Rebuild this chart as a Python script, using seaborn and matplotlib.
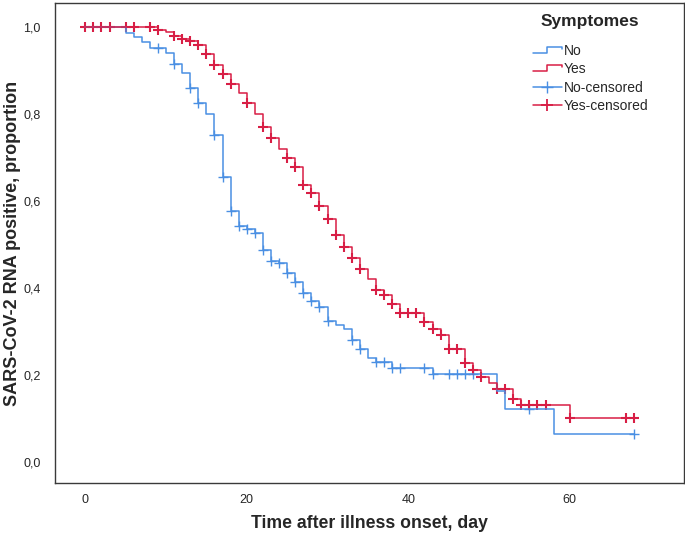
import numpy as np
import pandas as pd
import matplotlib
matplotlib.use("Agg")
import matplotlib.pyplot as plt
import seaborn as sns
from matplotlib.lines import Line2D
from matplotlib.legend_handler import HandlerBase

# Kaplan-Meier steps (day of step, proportion after step)
no_times = [0, 5, 6, 7, 8, 10, 11, 12, 13, 14, 15, 16, 17, 18, 19, 20, 21, 22,
            23, 24, 25, 26, 27, 28, 29, 30, 31, 32, 33, 34, 35, 36, 38, 43, 51,
            52, 58]
no_surv = [1.0, 0.985, 0.976, 0.965, 0.951, 0.939, 0.914, 0.893, 0.860, 0.825,
           0.800, 0.752, 0.656, 0.577, 0.543, 0.535, 0.527, 0.487, 0.462, 0.457,
           0.435, 0.414, 0.388, 0.370, 0.356, 0.324, 0.316, 0.307, 0.280, 0.261,
           0.240, 0.231, 0.217, 0.202, 0.163, 0.123, 0.064]
no_censored = [9, 11, 13, 14, 16, 17, 18, 19, 20, 21, 22, 23, 24, 25, 26, 27, 28,
               29, 30, 33, 34, 36, 37, 38, 39, 42, 43, 45, 46, 47, 48, 55, 68]

yes_times = [0, 9, 10, 11, 12, 13, 14, 15, 16, 17, 18, 19, 20, 21, 22, 23, 24,
             25, 26, 27, 28, 29, 30, 31, 32, 33, 34, 35, 36, 37, 38, 39, 42, 43,
             44, 45, 47, 48, 49, 50, 51, 53, 54, 60]
yes_surv = [1.0, 0.993, 0.988, 0.980, 0.972, 0.968, 0.959, 0.937, 0.913, 0.891,
            0.869, 0.849, 0.826, 0.800, 0.771, 0.744, 0.719, 0.698, 0.679, 0.637,
            0.618, 0.588, 0.558, 0.522, 0.495, 0.468, 0.443, 0.421, 0.395, 0.384,
            0.364, 0.342, 0.323, 0.306, 0.292, 0.260, 0.228, 0.211, 0.195, 0.182,
            0.169, 0.146, 0.131, 0.102]
yes_censored = [0, 1, 2, 3, 5, 6, 8, 9, 11, 12, 13, 14, 15, 16, 17, 18, 20, 22,
                23, 25, 26, 27, 28, 29, 30, 31, 32, 33, 34, 36, 37, 38, 39, 40,
                41, 42, 43, 44, 45, 46, 47, 48, 49, 51, 52, 53, 54, 55, 56, 57,
                60, 67, 68]

x_ticks = [0, 20, 40, 60]
y_ticks = [0.0, 0.2, 0.4, 0.6, 0.8, 1.0]

blue = "#4A8FE3"
red = "#D81E45"


def step_value(times, surv, t):
    idx = np.searchsorted(times, t, side="right") - 1
    return np.asarray(surv)[idx]


groups = [("No", no_times, no_surv, no_censored),
          ("Yes", yes_times, yes_surv, yes_censored)]

# curve table (extend each curve to its last censored time)
curves = []
cens_rows = []
for grp, times, surv, cens in groups:
    t = list(times) + [max(cens)]
    s = list(surv) + [surv[-1]]
    curves.append(pd.DataFrame({"day": t, "prop": s, "group": grp}))
    for c in cens:
        cens_rows.append({"day": c, "prop": step_value(times, surv, c), "group": grp})
curve_df = pd.concat(curves, ignore_index=True)
cens_df = pd.DataFrame(cens_rows)

sns.set_theme(style="white")
plt.rcParams["font.family"] = ["Liberation Sans", "DejaVu Sans"]

fig = plt.figure(figsize=(6.85, 5.41), dpi=100)
ax = fig.add_axes([0.0797, 0.107, 0.9183, 0.8875])

palette = {"No": blue, "Yes": red}
sns.lineplot(data=curve_df, x="day", y="prop", hue="group", palette=palette,
             estimator=None, sort=False, drawstyle="steps-post", linewidth=1.1,
             legend=False, ax=ax)
sns.scatterplot(data=cens_df[cens_df.group == "No"], x="day", y="prop",
                marker="+", color=blue, s=55, linewidth=1.0, legend=False, ax=ax)
sns.scatterplot(data=cens_df[cens_df.group == "Yes"], x="day", y="prop",
                marker="+", color=red, s=60, linewidth=1.5, legend=False, ax=ax)

ax.set_xlim(-3.8, 74.1)
ax.set_ylim(-0.048, 1.055)
ax.set_xticks(x_ticks)
ax.set_xticklabels([str(v) for v in x_ticks], fontsize=9)
ax.set_yticks(y_ticks)
ax.set_yticklabels([f"{v:.1f}".replace(".", ",") for v in y_ticks], fontsize=9)
ax.tick_params(length=0, pad=8)
ax.tick_params(axis="y", pad=10)
for sp in ax.spines.values():
    sp.set_color("#3a3a3a")
    sp.set_linewidth(1.0)

ax.set_xlabel("Time after illness onset, day", fontsize=12.7, fontweight="bold")
ax.set_ylabel("SARS-CoV-2 RNA positive, proportion", fontsize=13,
              fontweight="bold")
ax.xaxis.set_label_coords(0.5, -0.067)
ax.yaxis.set_label_coords(-0.053, 0.5)


class StepHandler(HandlerBase):
    def create_artists(self, legend, orig_handle, xdescent, ydescent,
                       width, height, fontsize, trans):
        lo = height * 0.2 - ydescent
        hi = height * 0.8 - ydescent
        x0 = -xdescent
        xs = [x0, x0 + 0.5 * width, x0 + 0.5 * width, x0 + width, x0 + width]
        ys = [lo, lo, hi, hi, hi - 0.3 * (hi - lo)]
        line = Line2D(xs, ys, color=orig_handle.get_color(),
                      linewidth=orig_handle.get_linewidth(), transform=trans)
        return [line]


h_no = Line2D([], [], color=blue, linewidth=1.1)
h_yes = Line2D([], [], color=red, linewidth=1.1)
h_nc = Line2D([], [], color=blue, marker="+", markersize=9, linewidth=1.1,
              markeredgewidth=1.0)
h_yc = Line2D([], [], color=red, marker="+", markersize=9, linewidth=1.1,
              markeredgewidth=1.3)
leg = ax.legend([h_no, h_yes, h_nc, h_yc],
                ["No", "Yes", "No-censored", "Yes-censored"],
                loc="upper left", bbox_to_anchor=(0.740, 0.941), frameon=False,
                fontsize=10, handlelength=2.1, handletextpad=0.15,
                labelspacing=0.32,
                handler_map={h_no: StepHandler(), h_yes: StepHandler()})
ax.text(0.851, 0.962, "Symptomes", transform=ax.transAxes, ha="center",
        va="center", fontsize=12.5, fontweight="bold")

fig.savefig("out.png", dpi=100)
